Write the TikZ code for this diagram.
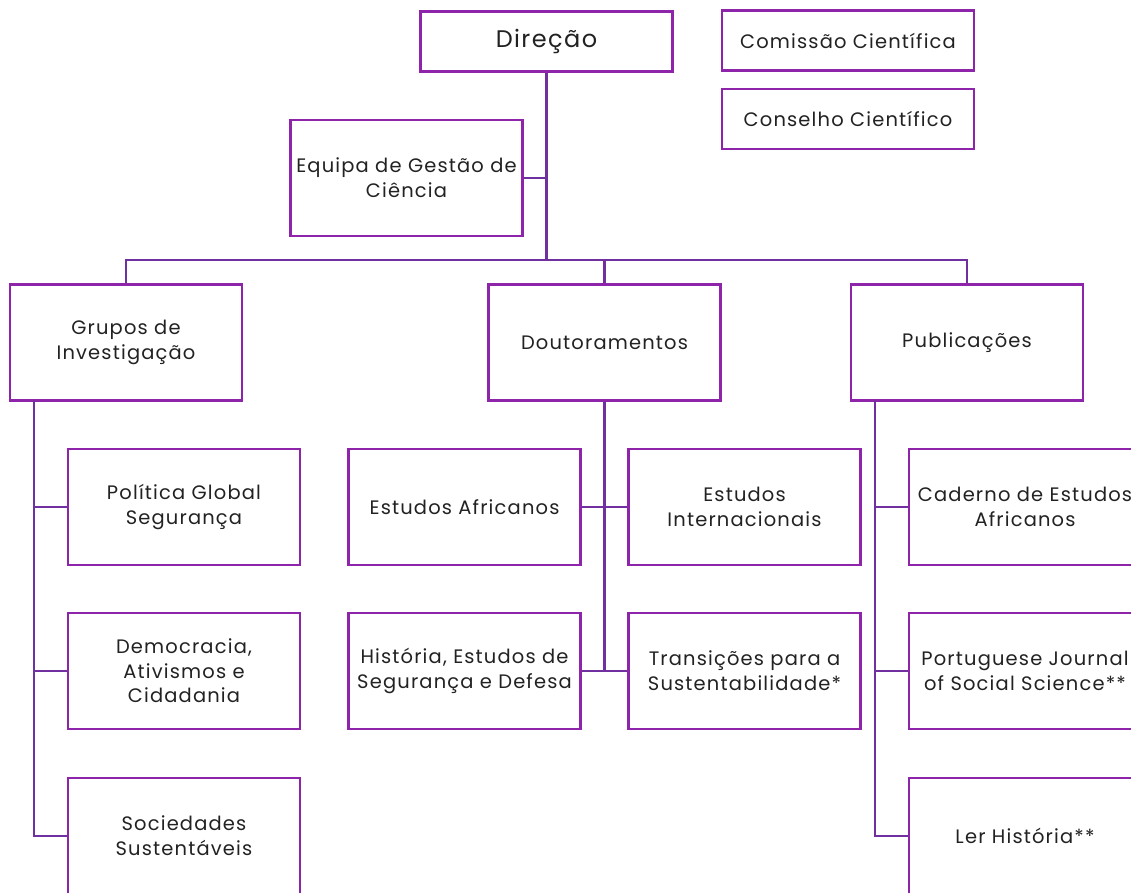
\documentclass[tikz,border=0pt]{standalone}
\usepackage{fontspec}
\setmainfont{Poppins}[LetterSpace=6]
\definecolor{boxpurple}{HTML}{8E24AA}
\definecolor{linepurple}{HTML}{7030A0}
\definecolor{txt}{HTML}{222222}
\begin{document}
\begin{tikzpicture}[x=0.75pt, y=-0.75pt,
    box/.style={draw=boxpurple, line width=2.2pt, fill=white, text=txt, align=center,
      minimum width=174pt, minimum height=87pt, inner sep=0pt,
      font=\fontsize{14.6}{18.5}\selectfont},
    topbox/.style={box, minimum width=189pt, minimum height=45pt},
    link/.style={draw=linepurple, line width=1.9pt}]
    \clip (0,0) rectangle (1131,892);
    \fill[white] (0,0) rectangle (1131,892);

    % top
    \node[topbox, font=\fontsize{18}{22}\selectfont] (dir) at (546.5,41.5) {Direção};
    \node[topbox] (com) at (848,40.5) {Comissão Científica};
    \node[topbox] (cons) at (848,119) {Conselho Científico};
    \node[box] (egc) at (406.5,178) {Equipa de Gestão de\\Ciência};

    % second level
    \node[box] (gi) at (126,342.5) {Grupos de\\Investigação};
    \node[box] (dout) at (604.5,342.5) {Doutoramentos};
    \node[box] (pub) at (967,342.5) {Publicações};

    % grupos
    \node[box] (pgs) at (184,507) {Política Global\\Segurança};
    \node[box] (dem) at (184,671) {Democracia,\\Ativismos e\\Cidadania};
    \node[box] (soc) at (184,836) {Sociedades\\Sustentáveis};

    % doutoramentos
    \node[box] (ea) at (464.5,507) {Estudos Africanos};
    \node[box] (ei) at (744.5,507) {Estudos\\Internacionais};
    \node[box] (hist) at (464.5,671) {História, Estudos de\\Segurança e Defesa};
    \node[box] (trans) at (744.5,671) {Transições para a\\Sustentabilidade*};

    % publicacoes
    \node[box] (cad) at (1025,507) {Caderno de Estudos\\Africanos};
    \node[box] (pjss) at (1025,671) {Portuguese Journal\\of Social Science**};
    \node[box] (ler) at (1025,836) {Ler História**};

    % connectors
    \coordinate (bus) at (546.5,260);
    \draw[link] (dir.south) -- (bus);
    \draw[link] (egc.east) -- (egc.east -| dir.south);
    \draw[link] (gi.north) |- (bus) -| (pub.north);
    \draw[link] (dout.north) -- (dout.north |- bus);

    \coordinate (gl) at (34,400);
    \draw[link] (gl) |- (soc.west);
    \draw[link] (pgs.west) -- (pgs.west -| gl);
    \draw[link] (dem.west) -- (dem.west -| gl);

    \draw[link] (dout.south) -- (dout.south |- hist.east);
    \draw[link] (ea.east) -- (ei.west);
    \draw[link] (hist.east) -- (trans.west);

    \coordinate (pl) at (875,400);
    \draw[link] (pl) |- (ler.west);
    \draw[link] (cad.west) -- (cad.west -| pl);
    \draw[link] (pjss.west) -- (pjss.west -| pl);
\end{tikzpicture}
\end{document}
